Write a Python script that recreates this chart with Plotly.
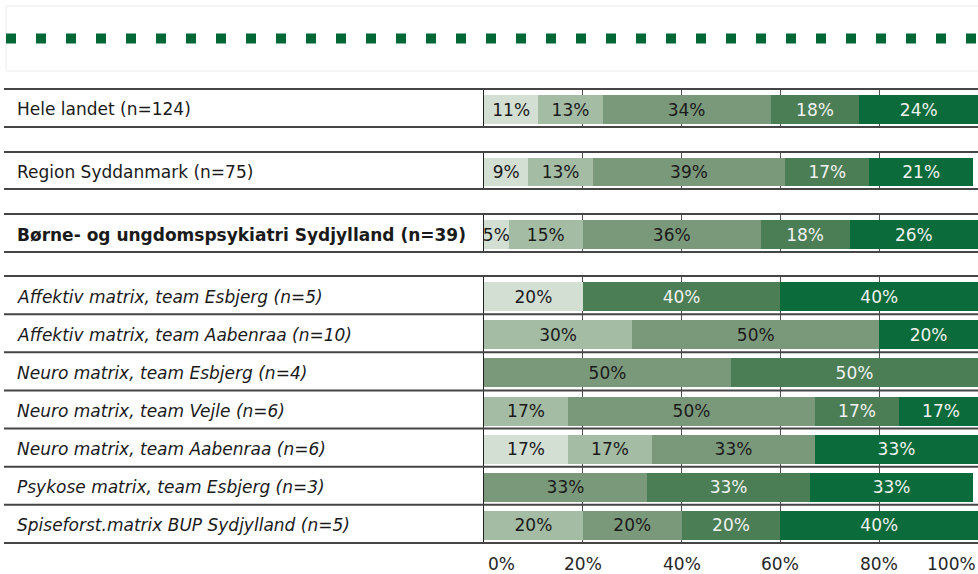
import plotly.graph_objects as go

# Row labels (top to bottom) and the section each row belongs to
rows = [
    "Hele landet (n=124)",
    "Region Syddanmark (n=75)",
    "Børne- og ungdomspsykiatri Sydjylland (n=39)",
    "Affektiv matrix, team Esbjerg (n=5)",
    "Affektiv matrix, team Aabenraa (n=10)",
    "Neuro matrix, team Esbjerg (n=4)",
    "Neuro matrix, team Vejle (n=6)",
    "Neuro matrix, team Aabenraa (n=6)",
    "Psykose matrix, team Esbjerg (n=3)",
    "Spiseforst.matrix BUP Sydjylland (n=5)",
]
row_group = [0, 1, 2, 3, 3, 3, 3, 3, 3, 3]
row_style = ["normal", "normal", "bold", "italic", "italic", "italic",
             "italic", "italic", "italic", "italic"]

# Percentages per answer category (None = no answers in that category)
cat1 = [11, 9, 5, 20, None, None, None, 17, None, None]
cat2 = [13, 13, 15, None, 30, None, 17, 17, None, 20]
cat3 = [34, 39, 36, None, 50, 50, 50, 33, 33, 20]
cat4 = [18, 17, 18, 40, None, 50, 17, None, 33, 20]
cat5 = [24, 21, 26, 40, 20, None, 17, 33, 33, 40]

tick_vals = [0, 20, 40, 60, 80, 100]

series = [cat1, cat2, cat3, cat4, cat5]
colors = ["#d3dfd3", "#a3bca3", "#7a997a", "#4b7e55", "#0b6b3a"]
text_colors = ["#1a1a1a", "#1a1a1a", "#1a1a1a", "#f2f2f2", "#f2f2f2"]

FONT = "DejaVu Sans"
W, H = 978, 574
PLOT_L = 484
SEP = "#454545"

# Vertical extent (px from top) of each section of the table
SECTION_PX = [(89, 127), (152, 189), (214, 252), (276, 543)]


def px_x(p):
    return (p - PLOT_L) / (W - PLOT_L)


def px_y(p):
    return 1 - p / H


def styled(text, style):
    if style == "bold":
        return f"<b>{text}</b>"
    if style == "italic":
        return f"<i>{text}</i>"
    return text


fig = go.Figure()
layout_axes = {}
shapes = []
annotations = []

for si, (top, bot) in enumerate(SECTION_PX):
    idx = [i for i, g in enumerate(row_group) if g == si]
    sfx = "" if si == 0 else str(si + 1)
    names = [rows[i] for i in idx]

    for vals_all, color, tcolor in zip(series, colors, text_colors):
        vals = [vals_all[i] for i in idx]
        fig.add_trace(go.Bar(
            x=vals, y=names, orientation="h",
            xaxis="x" + sfx, yaxis="y" + sfx,
            marker=dict(color=color, line=dict(width=0)),
            text=[f"{v}%" if v is not None else "" for v in vals],
            textposition="inside", insidetextanchor="middle", textangle=0,
            textfont=dict(color=tcolor, size=17, family=FONT),
            width=0.76, offset=-0.34,
            showlegend=False, hoverinfo="skip",
        ))

    layout_axes["xaxis" + sfx] = dict(
        domain=[0, 1], anchor="y" + sfx, range=[0, 100],
        showticklabels=False, ticks="", tickvals=tick_vals[1:-1],
        showgrid=True, gridcolor="#505050", gridwidth=1,
        zeroline=False, showline=False, fixedrange=True,
    )
    layout_axes["yaxis" + sfx] = dict(
        domain=[px_y(bot), px_y(top)], anchor="x" + sfx,
        type="category", categoryorder="array", categoryarray=names,
        range=[len(names) - 0.5, -0.5],
        showticklabels=False, ticks="", showgrid=False, zeroline=False,
        showline=True, linecolor="#222222", linewidth=1, fixedrange=True,
    )

    # Table rules: section top/bottom plus separators between rows
    for yd in (0, 1):
        shapes.append(dict(type="line", xref="paper", x0=px_x(4), x1=1,
                           yref="y" + sfx + " domain", y0=yd, y1=yd,
                           line=dict(color=SEP, width=2)))
    for k in range(len(names) - 1):
        shapes.append(dict(type="line", xref="paper", x0=px_x(4), x1=1,
                           yref="y" + sfx, y0=k + 0.5, y1=k + 0.5,
                           line=dict(color=SEP, width=2)))

    # Row labels in the left column
    for i in idx:
        annotations.append(dict(
            xref="paper", x=px_x(15), xanchor="left",
            yref="y" + sfx, y=rows[i], yanchor="middle", yshift=-1.5,
            text=styled(rows[i], row_style[i]), showarrow=False,
            font=dict(family=FONT, size=17, color="#1a1a1a"),
        ))

# Percentage scale under the table
for t in tick_vals:
    anchor = "left" if t == tick_vals[0] else ("right" if t == tick_vals[-1] else "center")
    annotations.append(dict(
        xref="x4", x=t, xanchor=anchor, xshift=2 if anchor == "left" else 0,
        yref="paper", y=px_y(564), yanchor="middle",
        text=f"{t}%", showarrow=False,
        font=dict(family=FONT, size=17, color="#262626"),
    ))

# Header box with dotted green rule
shapes.append(dict(type="rect", xref="paper", x0=px_x(6), x1=px_x(995),
                   yref="paper", y0=px_y(71), y1=px_y(6),
                   line=dict(color="#ececec", width=1), fillcolor="rgba(0,0,0,0)"))
shapes.append(dict(type="line", xref="paper", x0=px_x(6), x1=px_x(978),
                   yref="paper", y0=px_y(38.5), y1=px_y(38.5),
                   line=dict(color="#006837", width=10, dash="10px,20px")))

fig.update_layout(
    width=W, height=H, autosize=False,
    margin=dict(l=PLOT_L, r=0, t=0, b=0),
    paper_bgcolor="white", plot_bgcolor="white",
    barmode="stack",
    uniformtext=dict(minsize=17, mode="show"),
    font=dict(family=FONT, size=17, color="#1a1a1a"),
    shapes=shapes, annotations=annotations,
    **layout_axes,
)

fig.write_html("out.html", config={"displayModeBar": False})
